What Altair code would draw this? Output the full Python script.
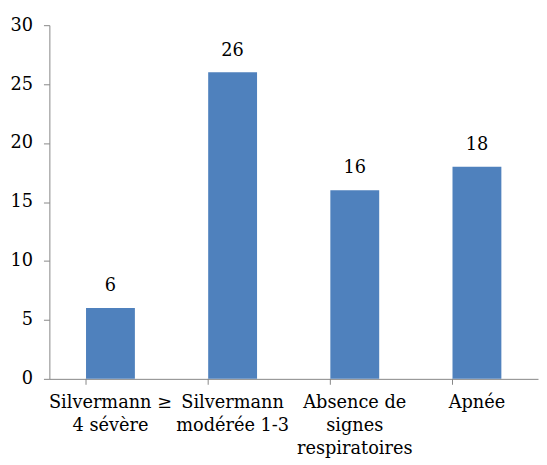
import altair as alt
import pandas as pd

categories = ["Silvermann ≥|4 sévère", "Silvermann|modérée 1-3", "Absence de|signes|respiratoires", "Apnée"]
values = [6, 26, 16, 18]

df = pd.DataFrame({"cat": categories, "val": values})

FONT = "DejaVu Serif"
FS = 18
x = alt.X("cat:N", sort=None, title=None,
          scale=alt.Scale(paddingInner=0.6, paddingOuter=0.3),
          axis=alt.Axis(labelAngle=0, labelExpr="split(datum.label, '|')",
                        ticks=False, labelPadding=15,
                        labelLineHeight=23.5, labelFontSize=FS, labelFont=FONT,
                        labelColor="black", domainColor="#868686",
                        labelBaseline="top"))
y = alt.Y("val:Q", title=None,
          scale=alt.Scale(domain=[0, 30]),
          axis=alt.Axis(values=[0, 5, 10, 15, 20, 25, 30], grid=False, tickSize=6,
                        labelPadding=11, labelFontSize=FS, labelFont=FONT,
                        labelColor="black", domainColor="#868686", tickColor="#868686"))

bars = alt.Chart(df).mark_bar(color="#4F81BD").encode(x=x, y=y)
text = alt.Chart(df).mark_text(baseline="bottom", dy=-13, fontSize=FS, font=FONT, color="black").encode(
    x=x, y=y, text="val:Q")
ticks = alt.Chart(df).mark_rule(color="#868686").encode(
    x=alt.X("cat:N", sort=None, bandPosition=0),
    y=alt.value(359), y2=alt.value(365))

chart = (bars + text + ticks).properties(
    width=496, height=359,
    padding={"left": 42, "top": 14, "right": 1, "bottom": 84},
    autosize=alt.AutoSizeParams(type="none"),
).configure_view(stroke=None)

chart.save("out.html", embed_options={"renderer": "svg", "actions": False})
